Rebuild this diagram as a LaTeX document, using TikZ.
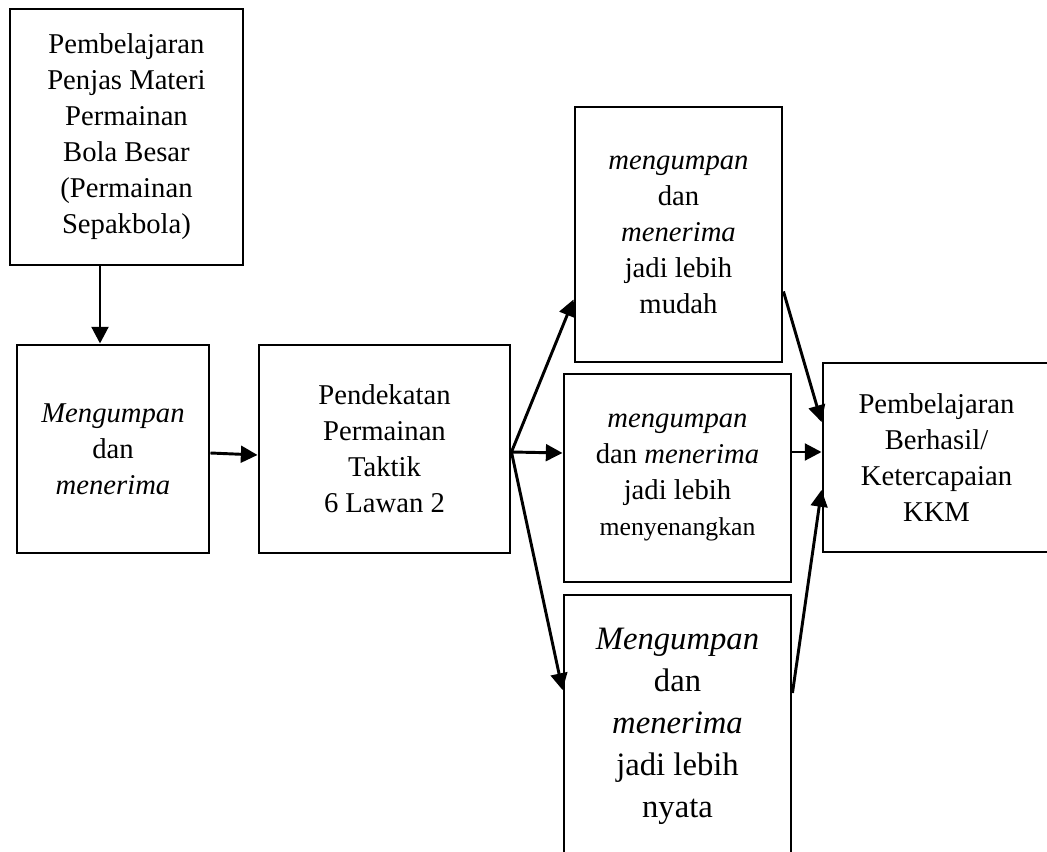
\documentclass[tikz,border=0pt]{standalone}
\usepackage{fontspec}
\setmainfont{Liberation Serif}
\usetikzlibrary{arrows.meta,calc}
\newcommand{\fbase}{\fontsize{21.5}{27}\selectfont}
\newcommand{\fbig}{\fontsize{24.5}{31.5}\selectfont}
\newcommand{\fsmall}{\fontsize{19.3}{27}\selectfont}
\tikzset{
  box/.style={draw, line width=2.2pt, rectangle, inner sep=0pt, align=center, font=\fbase},
  conn/.style={line width=2.2pt, -{Triangle[length=12.5pt,width=12.5pt]}}
}
\begin{document}
\begin{tikzpicture}[x=0.75pt,y=-0.75pt]
\useasboundingbox (0,0) rectangle (1047,852);
\clip (0,0) rectangle (1047,852);
\fill[white] (0,0) rectangle (1047,852);

\node[box, minimum width=174.75pt, minimum height=192pt] (A) at (126.5,137)
  {Pembelajaran\\Penjas Materi\\Permainan\\Bola Besar\\(Permainan\\Sepakbola)};
\node[box, minimum width=144pt, minimum height=156pt] (B) at (113,449)
  {\textit{Mengumpan}\\dan\\\textit{menerima}};
\node[box, minimum width=188.25pt, minimum height=156pt] (C) at (384.5,449)
  {Pendekatan\\Permainan\\Taktik\\6 Lawan 2};
\node[box, minimum width=155.25pt, minimum height=191.25pt] (D) at (678.5,234.5)
  {\textit{mengumpan}\\dan\\\textit{menerima}\\jadi lebih\\mudah};
\node[box, minimum width=170.25pt, minimum height=156pt] (E) at (677.5,478)
  {\textit{mengumpan}\\dan \textit{menerima}\\jadi lebih\\{\fsmall menyenangkan}};
\node[box, minimum width=170.25pt, minimum height=196.5pt, font=\fbig] (F) at (677.5,726)
  {\textit{Mengumpan}\\dan\\\textit{menerima}\\jadi lebih\\nyata};
\node[box, minimum width=170.25pt, minimum height=141.75pt] (G) at (936.5,457.5)
  {Pembelajaran\\Berhasil/\\Ketercapaian\\KKM};

\coordinate (P) at ($(C.east)+(0,3)$);
\coordinate (a1) at ($(A.south)+(-26.5,0)$);

\draw[conn] (a1) -- (a1 |- B.north);
\draw[conn] ($(B.east)+(0,4)$) -- ($(C.west)+(0,6)$);
\draw[conn] (P) -- ($(D.south west)+(0,-64)$);
\draw[conn] (P) -- ($(E.west)+(0,-25)$);
\draw[conn] (P) -- ($(F.west)+(0,-36)$);
\draw[conn] ($(D.south east)+(0,-72)$) -- ($(G.west)+(0,-35.5)$);
\draw[conn] ($(E.east)+(0,-26)$) -- ($(G.west)+(0,-5.5)$);
\draw[conn] ($(F.east)+(0,-33)$) -- ($(G.west)+(0,32.5)$);
\end{tikzpicture}
\end{document}
